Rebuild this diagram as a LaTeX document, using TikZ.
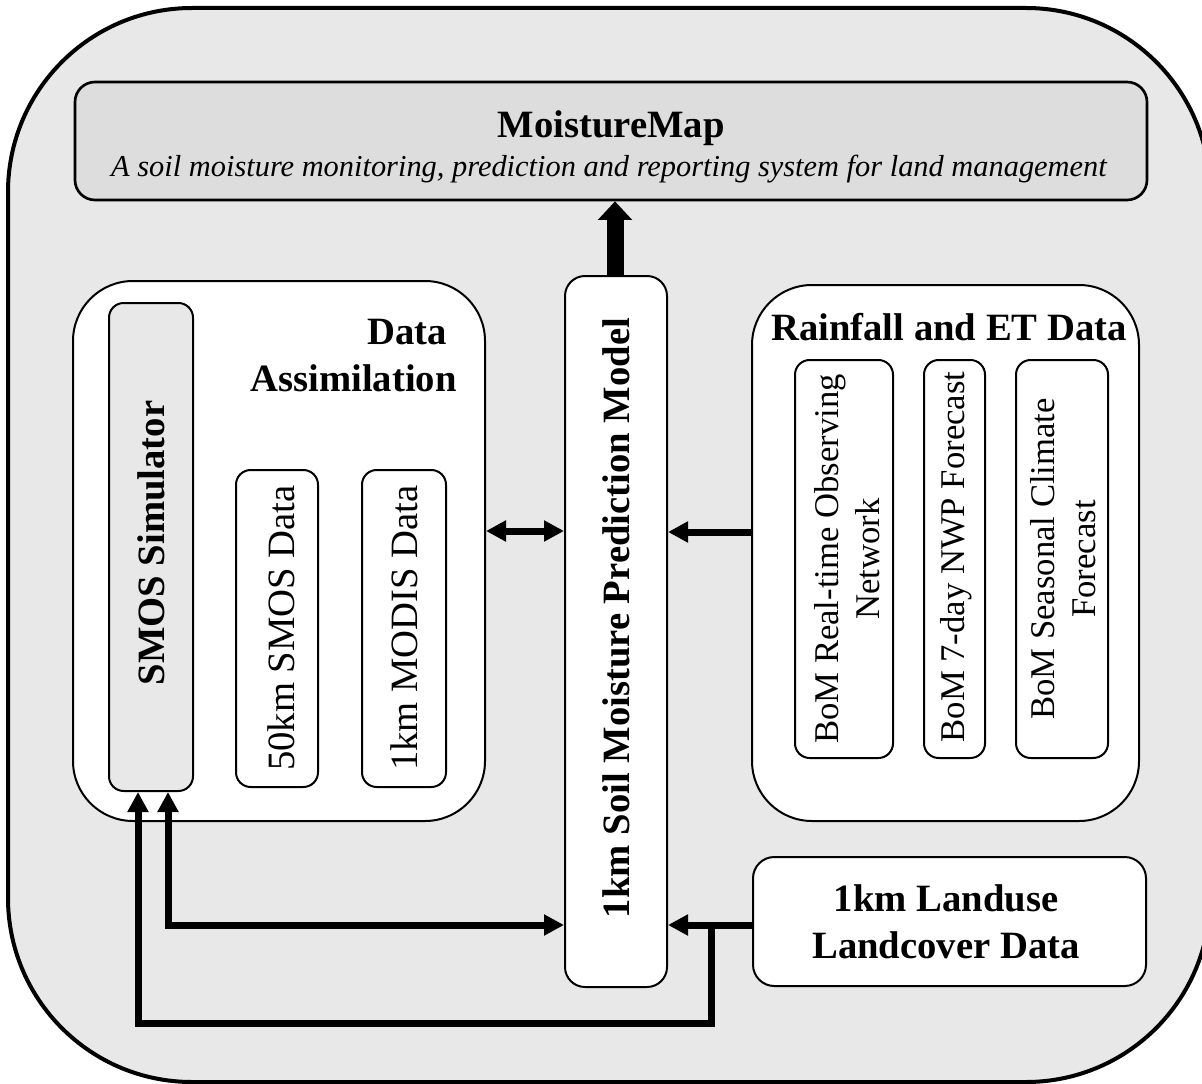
\documentclass[tikz,border=0pt]{standalone}
\usepackage{fontspec}
\setmainfont{Liberation Serif}
\usetikzlibrary{arrows.meta,fit}
\definecolor{bggray}{HTML}{E8E8E8}
\definecolor{titlegray}{HTML}{DDDDDD}
\begin{document}
\begin{tikzpicture}[x=0.75pt,y=-0.75pt,
  box/.style={draw=black, line width=1.5pt, fill=white, inner sep=0pt},
  txt/.style={inner sep=0pt, align=center, font=\fontsize{29}{30.75}\selectfont},
  stxt/.style={inner sep=0pt, align=center, font=\fontsize{26}{30.75}\selectfont},
  btxt/.style={inner sep=0pt, align=center, font=\fontsize{29}{35}\selectfont\bfseries},
  conn/.style={line width=5.25pt, -{Triangle[length=15pt,width=15pt]}},
  dconn/.style={line width=5.25pt, {Triangle[length=15pt,width=15pt]}-{Triangle[length=15pt,width=15pt]}},
  line/.style={line width=5.25pt},
  bigarrow/.style={line width=12.75pt, -{Triangle[length=14pt,width=25pt]}}
]
\useasboundingbox (0,0) rectangle (1202,1084);
% outer container
\draw[line width=3pt, fill=bggray, rounded corners=138pt] (8,8) rectangle (1210,1082);

% title box
\node[box, fill=titlegray, line width=2pt, rounded corners=15pt, fit={(75,82) (1147,200)}] (mm) {};
\node[inner sep=0pt, anchor=base, font=\fontsize{29}{35}\selectfont\bfseries] (mmt) at (611,138) {MoistureMap};
\node[inner sep=0pt, anchor=base, font=\fontsize{22.8}{27}\selectfont\itshape] (mms) at (609,177) {A soil moisture monitoring, prediction and reporting system for land management};

% data assimilation group
\node[box, rounded corners=45pt, fit={(73,281) (485,821)}] (da) {};
\node[btxt, align=right, anchor=east] (dat) at (457,355.5) {Data\hspace*{7.5pt}\\Assimilation};
\node[box, fill=bggray, rounded corners=11pt, fit={(109,303) (193,791)}] (smos) {};
\node[btxt, rotate=90] (smost) at (151,543) {SMOS Simulator};
\node[box, rounded corners=11pt, fit={(236,470) (318,787)}] (smosd) {};
\node[txt, rotate=90] (smosdt) at (281,628) {50km SMOS Data};
\node[box, rounded corners=11pt, fit={(362,470) (446,787)}] (modis) {};
\node[txt, rotate=90] (modist) at (404,628) {1km MODIS Data};

% model
\node[box, rounded corners=15pt, fit={(565,276) (667,987)}] (model) {};
\node[btxt, rotate=90] (modelt) at (616,618) {1km Soil Moisture Prediction Model};

% rainfall group
\node[box, rounded corners=45pt, fit={(752,285) (1139,821)}] (rain) {};
\node[btxt, anchor=base] (raint) at (949,340) {Rainfall and ET Data};
\node[box, rounded corners=11pt, fit={(795,360) (893,758)}] (obs) {};
\node[stxt, rotate=90] (obst) at (847,559) {BoM Real-time Observing\\Network};
\node[box, rounded corners=11pt, fit={(924,360) (985,758)}] (nwp) {};
\node[stxt, rotate=90] (nwpt) at (956,557) {BoM 7-day NWP Forecast};
\node[box, rounded corners=11pt, fit={(1016,360) (1108,758)}] (clim) {};
\node[stxt, rotate=90] (climt) at (1063,559) {BoM Seasonal Climate\\Forecast};

% landuse
\node[box, rounded corners=16pt, fit={(753,857) (1146,986)}] (land) {};
\node[btxt] (landt) at (946,922) {1km Landuse\\Landcover Data};

% connectors
\coordinate (j) at (711,925);
\coordinate (b1) at (711,1023);
\coordinate (b2) at (138,1023);
\coordinate (c1) at (168,925);
\draw[bigarrow] (model.north -| 615,0) -- (mm.south -| 615,0);
\draw[dconn] (da.east |- 0,531) -- (model.west |- 0,531);
\draw[conn] (rain.west |- 0,532) -- (model.east |- 0,532);
\draw[conn] (land.west |- j) -- (model.east |- j);
\draw[line, -{Triangle[length=15pt,width=15pt]}] (j) -- (b1) -- (b2) -- (smos.south -| b2);
\draw[dconn] (smos.south -| c1) -- (c1) -- (model.west |- c1);
\end{tikzpicture}
\end{document}
